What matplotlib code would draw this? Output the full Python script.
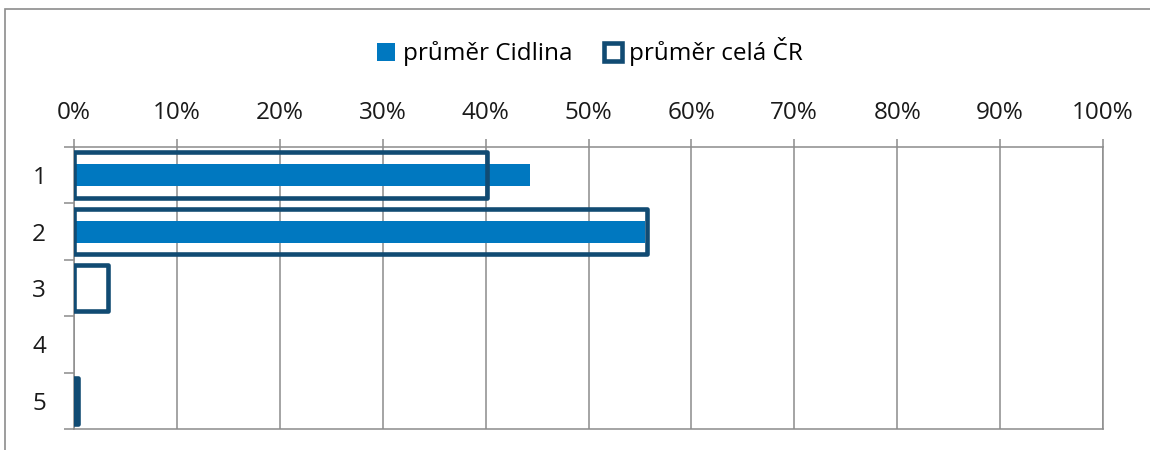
import matplotlib
matplotlib.use('AGG')

import matplotlib.pyplot as plt
from matplotlib.patches import Patch, Rectangle
from matplotlib.ticker import FixedLocator, PercentFormatter
import numpy as np

plt.rcParams['font.family'] = ['Open Sans', 'DejaVu Sans']

categories = ['1', '2', '3', '4', '5']
cidlina = [44.3, 55.5, 0.0, 0.0, 0.0]
cela_cr = [40.1, 55.7, 3.3, 0.0, 0.4]
x_ticks = list(range(0, 101, 10))

BLUE = '#0078C0'
NAVY = '#114B73'
GRID = '#8C8C8C'

fig = plt.figure(figsize=(11.5, 4.5), dpi=100)
ax = fig.add_axes([74 / 1150, 1 - 429 / 450, (1103 - 74) / 1150, (429 - 147) / 450])

pos = np.arange(len(categories))
ax.barh(pos, cidlina, height=0.39, color=BLUE, zorder=2)
bars = ax.barh(pos, cela_cr, height=0.81, facecolor='none', edgecolor=NAVY,
               linewidth=[3.3 if v > 0 else 0 for v in cela_cr], zorder=3)
for b in bars:
    b.set_joinstyle('round')

ax.set_xlim(0, 100)
ax.set_ylim(len(categories) - 0.5, -0.5)

ax.xaxis.tick_top()
ax.xaxis.set_major_locator(FixedLocator(x_ticks))
ax.xaxis.set_major_formatter(PercentFormatter(decimals=0))
ax.tick_params(axis='x', which='major', length=6, width=1.1, color=GRID,
               pad=10, labelsize=17.5, labelcolor='#1a1a1a')

ax.yaxis.set_major_locator(FixedLocator(np.arange(-0.5, len(categories), 1)))
ax.yaxis.set_major_formatter(plt.NullFormatter())
ax.yaxis.set_minor_locator(FixedLocator(pos))
ax.set_yticklabels(categories, minor=True)
ax.tick_params(axis='y', which='major', length=7, width=1.1, color=GRID)
ax.tick_params(axis='y', which='minor', length=0, pad=20, labelsize=17.5,
               labelcolor='#1a1a1a')

ax.grid(axis='x', color=GRID, linewidth=1.1, zorder=1)
ax.set_axisbelow(True)
for s in ax.spines.values():
    s.set_color(GRID)
    s.set_linewidth(1.1)

handles = [Patch(facecolor=BLUE, edgecolor=BLUE, linewidth=0),
           Patch(facecolor='white', edgecolor=NAVY, linewidth=3.3)]
fig.legend(handles, ['průměr Cidlina', 'průměr celá ČR'], loc='center',
           bbox_to_anchor=(0.513, 1 - 52 / 450), ncol=2, frameon=False,
           fontsize=17.5, handlelength=0.75, handleheight=0.75,
           handletextpad=0.3, columnspacing=1.3)

fig.add_artist(Rectangle((5 / 1150, -0.1), 2, 1.1 - 9 / 450, transform=fig.transFigure,
                         facecolor='none', edgecolor=GRID, linewidth=1.2))

fig.savefig('out.png', dpi=100)
